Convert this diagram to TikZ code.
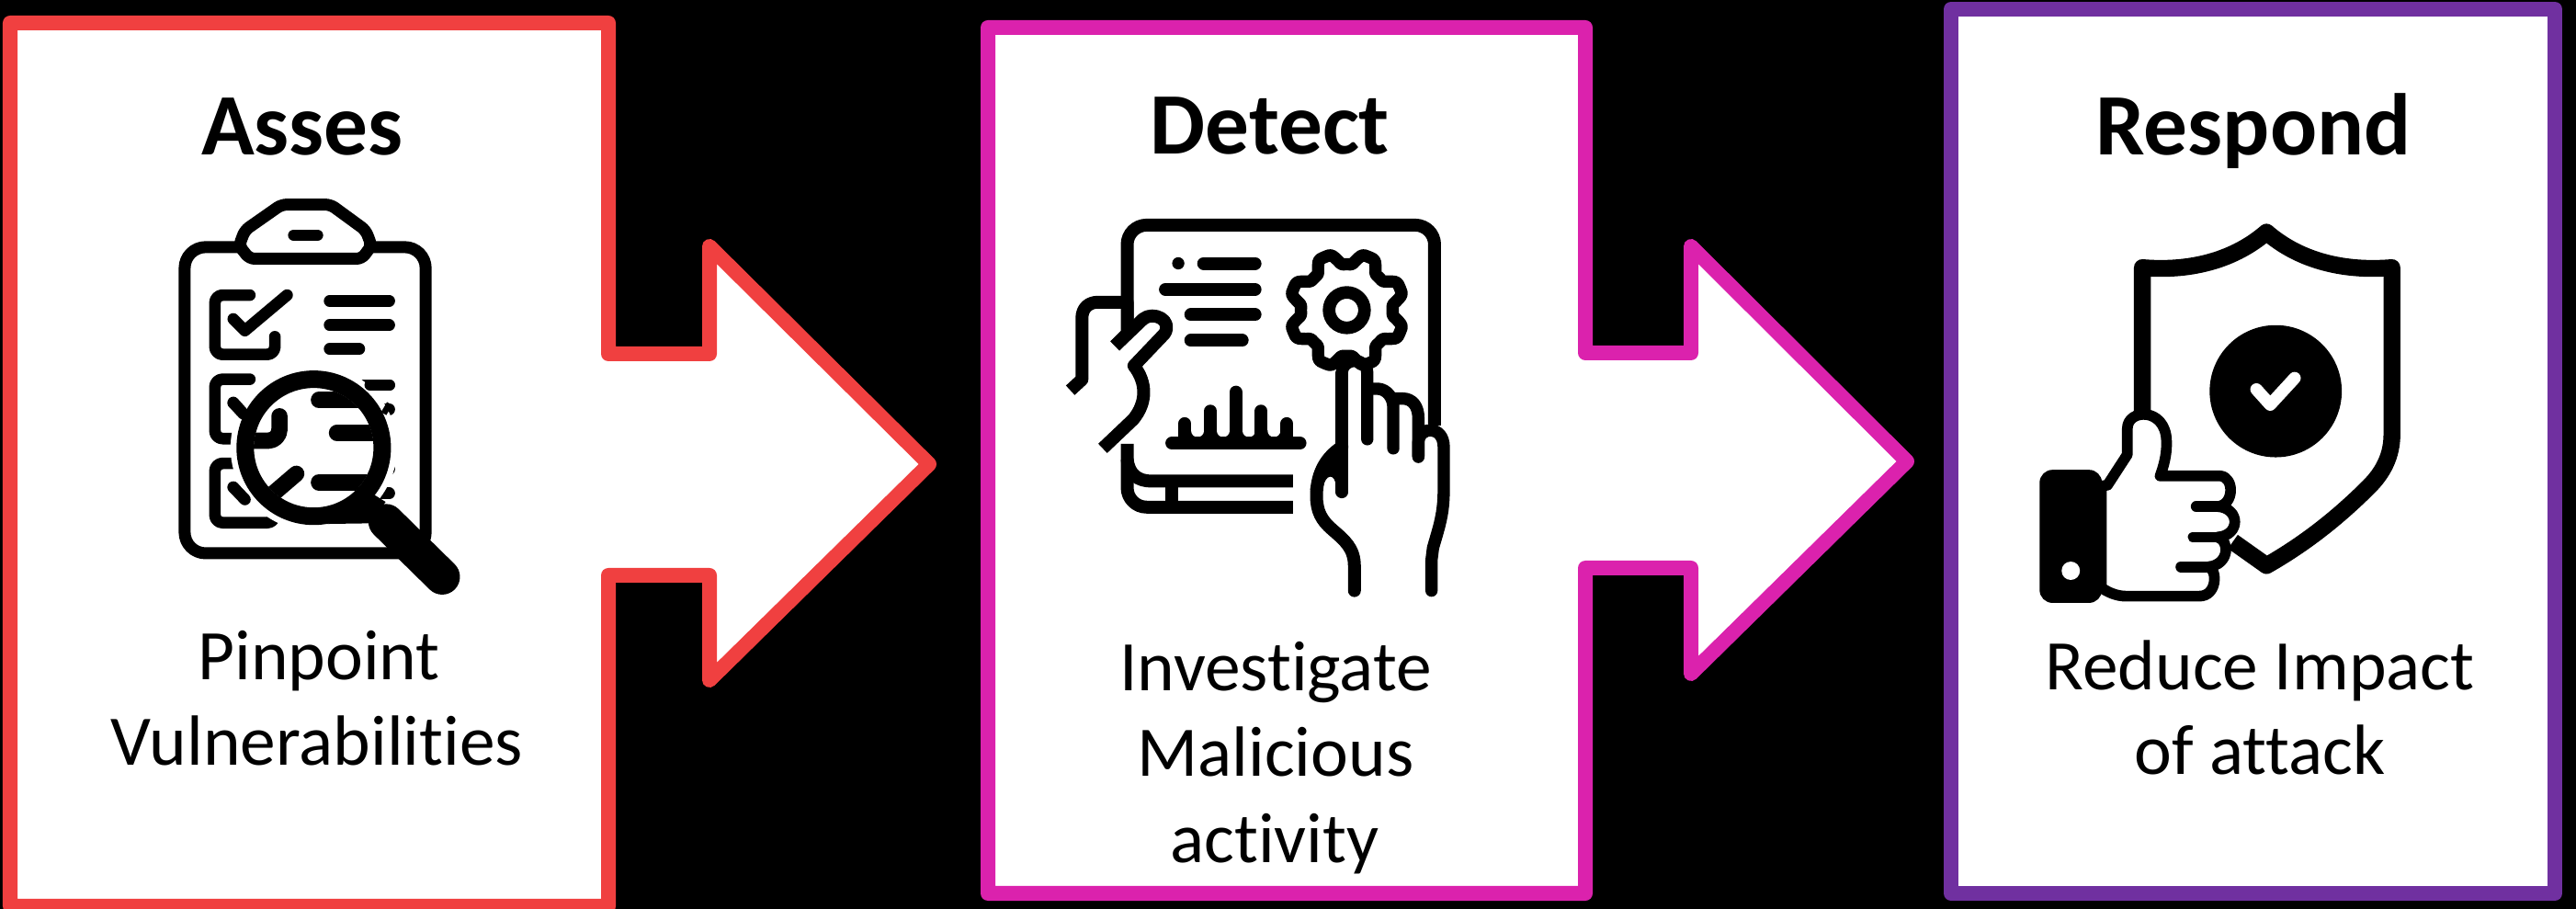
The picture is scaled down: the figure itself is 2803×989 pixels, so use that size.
\documentclass[tikz,border=0pt]{standalone}
\usepackage{fontspec}
\setmainfont[Ligatures=NoCommon]{Carlito}
\definecolor{cred}{HTML}{F04040}
\definecolor{cmag}{HTML}{DB22AD}
\definecolor{cpur}{HTML}{7030A0}
\tikzset{
  frame/.style={line width=4.55pt,line join=round,fill=white},
  ttl/.style={anchor=base,inner sep=0pt,font=\fontsize{27.1}{30}\selectfont\bfseries},
  txt/.style={anchor=base,inner sep=0pt,font=\fontsize{22}{26}\selectfont},
  ic/.style={line width=#1*0.09484pt,line cap=round,line join=round},
  icb/.style={line width=#1*0.09484pt,line cap=butt,line join=round},
  zoomed/.style={x=0.003333cm,y=-0.003333cm}
}
\begin{document}
\begin{tikzpicture}[x=0.01cm,y=-0.01cm]
\useasboundingbox (0,0) rectangle (2803,989);
\fill[black] (0,0) rectangle (2803,989);
\begin{scope}
\clip (0,0) rectangle (2803,989);
% frames
\draw[frame,draw=cred] (11,25) -- (662,25) -- (662,385) -- (772,385) -- (772,268) -- (1011,505) -- (772,740) -- (772,626) -- (662,626) -- (662,986) -- (11,986) -- cycle;
\draw[frame,draw=cmag] (1075,30) -- (1725,30) -- (1725,384) -- (1840,384) -- (1840,268) -- (2075,502) -- (1840,733) -- (1840,618) -- (1725,618) -- (1725,972) -- (1075,972) -- cycle;
\draw[frame,draw=cpur] (2123,10) -- (2780,10) -- (2780,972) -- (2123,972) -- cycle;
\end{scope}
% texts
\node[ttl] (t1) at (329,169) {Asses};
\node[txt] (a1) at (347,740) {Pinpoint};
\node[txt] (a2) at (345,833) {Vulnerabilities};
\node[ttl] (t2) at (1382,168) {Detect};
\node[txt] (b1) at (1388,752) {Investigate};
\node[txt] (b2) at (1388,845) {Malicious};
\node[txt] (b3) at (1387,939) {activity};
\node[ttl] (t3) at (2452,169) {Respond};
\node[txt] (c1) at (2459,751) {Reduce Impact};
\node[txt] (c2) at (2459,843) {of attack};
% ---------- clipboard
\begin{scope}[shift={(150,180)},zoomed]
\draw[ic=39,rounded corners=6.5pt] (153,267) -- (941,267) -- (941,1268) -- (153,1268) -- cycle;
\draw[ic=39,fill=white,rounded corners=1.6pt] (470,128) -- (630,128) -- (745,212) -- (764,262) -- (732,305) -- (365,305) -- (331,262) -- (350,212) -- cycle;
\draw[ic=38] (510,228) -- (587,228);
\foreach \dy in {0,275,550}{
  \draw[ic=38,rounded corners=2.4pt] (366,{424+\dy}) -- (252,{424+\dy}) -- (252,{618+\dy}) -- (448,{618+\dy}) -- (448,{560+\dy});
  \draw[ic=38] (312,{502+\dy}) -- (350,{540+\dy}) -- (488,{424+\dy});
  \draw[ic=38] (627,{443+\dy}) -- (822,{443+\dy});
  \draw[ic=38] (627,{522+\dy}) -- (822,{522+\dy});
  \draw[ic=38] (627,{600+\dy}) -- (724,{600+\dy});
}
\fill[white] (575,923) circle (272);
\draw[ic=38] (312,775) -- (345,812);
\draw[ic=38] (312,1052) -- (350,1092);
\draw[ic=38] (760,718) -- (822,718);
\draw[icb=38] (805,790) -- (822,800);
\begin{scope}
\clip (575,923) circle (196);
\draw[ic=53] (592,767) -- (740,767);
\draw[ic=53] (651,874) -- (800,874);
\draw[ic=53] (592,1036) -- (800,1036);
\draw[ic=53,rounded corners=3.5pt] (463,820) -- (463,900) -- (340,900);
\draw[ic=53] (518,1008) -- (420,1092);
\end{scope}
\draw[line width=57*0.09484pt] (575,923) circle (224);
\fill (620,1172) -- (760,1170) -- (810,1100) -- (770,1075) -- cycle;
\draw[ic=116] (812,1165) -- (995,1345);
\end{scope}
% ---------- tablet and hands
\begin{scope}[shift={(1130,200)},zoomed]
\draw[ic=42,line cap=butt,rounded corners=6pt] (290,500) -- (290,135) -- (1295,135) -- (1295,790);
\draw[icb=42,rounded corners=6pt] (290,850) -- (290,1057) -- (832,1057);
\draw[icb=42] (290,900) .. controls (295,950) and (325,972) .. (370,972) -- (832,972);
\draw[icb=42] (435,985) -- (435,1045);
\fill (457,260) circle (20);
\draw[ic=42] (540,260) -- (708,260);
\draw[ic=42] (415,345) -- (708,345);
\draw[ic=42] (498,428) -- (708,428);
\draw[ic=42] (498,512) -- (666,512);
% chart
\fill (478,805) rectangle (812,848);
\foreach \cx in {520,604,688,770}{ \fill[white] (\cx,807) circle (21); }
\foreach \cx/\ty in {478/784,562/743,645/681,728/743,812/784}{ \draw[ic=42] (\cx,\ty) -- (\cx,830); }
\draw[ic=42] (436,848) -- (855,848);
% gear
\draw[line width=41*0.09484pt,line join=round] (1008,413) circle (58);
\draw[line width=40*0.09484pt,line join=round] plot[domain=0:360,samples=145] ({1008+(169+19*max(-1,min(1,1.6*cos(8*(\x-22.5)))))*cos(\x)},{413+(169+19*max(-1,min(1,1.6*cos(8*(\x-22.5)))))*sin(\x)}) -- cycle;
% left hand
\fill[white] (142,400) -- (290,400) -- (290,480) -- (350,440) -- (410,450) -- (420,480) -- (320,595) -- (345,680) -- (310,770) -- (220,860) -- (142,640) -- cycle;
\draw[icb=42] (104,675) -- (142,640) -- (142,440) .. controls (142,405) and (165,387) .. (195,387) -- (290,387) -- (290,490) -- (250,530);
\draw[icb=42,line join=round] (250,530) -- (342,442) .. controls (375,415) and (440,445) .. (412,490) -- (312,595) .. controls (355,650) and (355,715) .. (310,770) -- (210,865);
% right hand
\fill[white] (992,610) -- (1095,610) -- (1095,670) -- (1325,820) -- (1325,1000) -- (1285,1190) -- (1285,1330) -- (1033,1330) -- (1033,1240) -- (960,1120) -- (909,1020) -- (950,880) -- cycle;
\draw[ic=42] (1033,1330) -- (1033,1250) .. controls (1033,1190) and (1000,1165) .. (960,1130) .. controls (925,1100) and (909,1070) .. (909,1020) .. controls (909,960) and (930,900) .. (992,860);
\fill (888,1000) .. controls (900,940) and (930,890) .. (972,855) -- (1012,860) -- (1012,990) -- (972,990) .. controls (972,945) and (935,945) .. (930,1000) -- cycle;
\draw[ic=40] (992,1008) -- (992,620);
\draw[ic=40] (992,620) .. controls (992,565) and (1075,565) .. (1075,620) -- (1075,835);
\draw[ic=40] (1075,670) -- (1110,670) .. controls (1140,672) and (1160,700) .. (1160,730) -- (1160,865);
\draw[ic=40] (1160,702) -- (1190,702) .. controls (1225,702) and (1242,730) .. (1242,765) -- (1242,893);
\draw[ic=40] (1242,890) -- (1242,845) .. controls (1245,790) and (1325,790) .. (1325,860) -- (1325,1000) .. controls (1325,1080) and (1310,1120) .. (1290,1190) -- (1285,1230) -- (1285,1330);
\end{scope}
% ---------- shield and thumb
\begin{scope}[shift={(2190,210)},zoomed]
\draw[line width=55*0.09484pt,line join=round,line cap=butt] (424,720) -- (424,244) .. controls (590,258) and (730,215) .. (830,128) .. controls (930,215) and (1070,258) .. (1240,244) -- (1240,790) .. controls (1240,860) and (1210,915) .. (1165,960) .. controls (1060,1065) and (950,1150) .. (830,1218) -- (720,1140);
\fill (860,648) circle (216);
\draw[ic=40,white] (797,642) -- (842,692) -- (922,605);
\fill[rounded corners=4pt] (88,905) rectangle (292,1340);
\fill[white] (190,1235) circle (30);
\draw[ic=35,fill=white] (290,958) -- (310,955) -- (375,855) -- (375,770) .. controls (375,705) and (500,700) .. (503,810) .. controls (505,850) and (495,890) .. (482,925) -- (680,925) .. controls (725,930) and (725,1020) .. (670,1025) .. controls (745,1030) and (745,1120) .. (670,1125) .. controls (710,1135) and (710,1215) .. (640,1222) .. controls (670,1230) and (670,1318) .. (610,1318) -- (370,1318) .. controls (340,1318) and (310,1305) .. (290,1290) -- cycle;
\draw[ic=35] (600,1025) -- (680,1025);
\draw[ic=35] (590,1125) -- (670,1125);
\draw[ic=35] (550,1222) -- (640,1222);
\end{scope}
\end{tikzpicture}
\end{document}
